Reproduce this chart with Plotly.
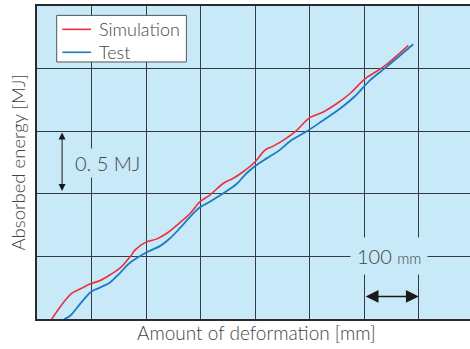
import plotly.graph_objects as go

# Data (deformation in mm, absorbed energy in MJ)
sim_x = [27, 51, 64, 79, 97, 116, 134, 152, 171, 180, 198, 220, 238, 262, 281, 299, 317,
         342, 360, 378, 400, 418, 433, 452, 473, 501, 525, 550, 574, 602, 635, 681]
sim_y = [0.0, 0.146, 0.207, 0.239, 0.279, 0.308, 0.353, 0.406, 0.499, 0.552, 0.610, 0.640,
         0.685, 0.770, 0.845, 0.937, 0.990, 1.084, 1.124, 1.176, 1.256, 1.349, 1.381, 1.429,
         1.495, 1.610, 1.654, 1.721, 1.801, 1.920, 2.013, 2.186]

test_x = [50, 61, 73, 88, 100, 116, 134, 152, 171, 204, 226, 244, 262, 281, 299, 317, 348,
          366, 381, 400, 421, 443, 467, 498, 525, 556, 583, 611, 641, 690]
test_y = [0.0, 0.026, 0.088, 0.167, 0.220, 0.252, 0.292, 0.367, 0.451, 0.539, 0.584, 0.645,
          0.725, 0.818, 0.892, 0.937, 1.022, 1.078, 1.150, 1.222, 1.283, 1.343, 1.429, 1.508,
          1.588, 1.681, 1.779, 1.908, 2.014, 2.194]

series_names = ["Simulation", "Test"]
series_colors = ["#e8313b", "#1d7ac2"]

x_range = [0, 794]
y_range = [0, 2.5]

FONT = "Lato"
TXT = "#444444"
BG = "#c8e9f8"
GRID = "#353b40"

fig = go.Figure()
fig.add_trace(go.Scatter(x=sim_x, y=sim_y, mode="lines", name=series_names[0],
                         line=dict(color=series_colors[0], width=1.6, shape="spline", smoothing=1.0)))
fig.add_trace(go.Scatter(x=test_x, y=test_y, mode="lines", name=series_names[1],
                         line=dict(color=series_colors[1], width=1.8, shape="spline", smoothing=1.0)))

annotations = [
    # axis titles
    dict(text="Absorbed energy [MJ]", xref="paper", yref="paper", x=-0.044, y=0.5,
         textangle=-90, showarrow=False,
         font=dict(family=FONT, size=18.5, color=TXT, weight=300),
         xanchor="center", yanchor="middle"),
    dict(text="Amount of deformation [mm]", xref="paper", yref="paper", x=0.506, y=-0.044,
         showarrow=False, font=dict(family=FONT, size=19, color=TXT, weight=300),
         xanchor="center", yanchor="middle"),
    # 0.5 MJ scale
    dict(x=46, y=1.49, ax=46, ay=1.01, xref="x", yref="y", axref="x", ayref="y",
         showarrow=True, arrowhead=2, arrowside="end+start", arrowsize=1.4,
         arrowwidth=1, arrowcolor="#1a1a1a", text=""),
    dict(text="0. 5 MJ", x=129, y=1.245, xref="x", yref="y", showarrow=False,
         bgcolor=BG, borderpad=2, font=dict(family=FONT, size=20, color=TXT, weight=300)),
    # 100 mm scale
    dict(x=700, y=0.18, ax=600, ay=0.18, xref="x", yref="y", axref="x", ayref="y",
         showarrow=True, arrowhead=2, arrowside="end+start", arrowsize=1.6,
         arrowwidth=1.6, arrowcolor="#1a1a1a", text=""),
    dict(text="100 <span style='font-size:15px'>mm</span>", x=646, y=0.5,
         xref="x", yref="y", showarrow=False, bgcolor=BG, borderpad=6,
         font=dict(family=FONT, size=20, color=TXT, weight=300)),
]

# compact legend box (paper coordinates)
shapes = [dict(type="rect", xref="paper", yref="paper", x0=0.0455, x1=0.345,
               y0=0.8212, y1=0.970, fillcolor="white",
               line=dict(color="#555555", width=1), layer="above")]
legend_rows_y = [0.9254, 0.8521]
for name, color, ly in zip(series_names, series_colors, legend_rows_y):
    shapes.append(dict(type="line", xref="paper", yref="paper", x0=0.0584, x1=0.1247,
                       y0=ly, y1=ly, line=dict(color=color, width=1.6), layer="above"))
    annotations.append(dict(text=name, xref="paper", yref="paper", x=0.1379, y=ly,
                            xanchor="left", yanchor="middle", showarrow=False,
                            font=dict(family=FONT, size=18, color=TXT, weight=300)))

fig.update_layout(
    width=470, height=349,
    margin=dict(l=37, r=0, t=6, b=30),
    paper_bgcolor="white", plot_bgcolor=BG,
    showlegend=False,
    annotations=annotations,
    shapes=shapes,
    xaxis=dict(range=x_range, dtick=100, tick0=0, showticklabels=False, ticks="",
               showgrid=True, gridcolor=GRID, gridwidth=1.2, zeroline=False,
               showline=True, linecolor="#2a2a2a", linewidth=1.5, mirror=True),
    yaxis=dict(range=y_range, dtick=0.5, tick0=0, showticklabels=False, ticks="",
               showgrid=True, gridcolor=GRID, gridwidth=1.2, zeroline=False,
               showline=True, linecolor="#2a2a2a", linewidth=1.5, mirror=False),
)

fig.write_html("out.html", config={"displayModeBar": False},
               post_script="document.body.style.margin='0';document.body.style.padding='0';")
